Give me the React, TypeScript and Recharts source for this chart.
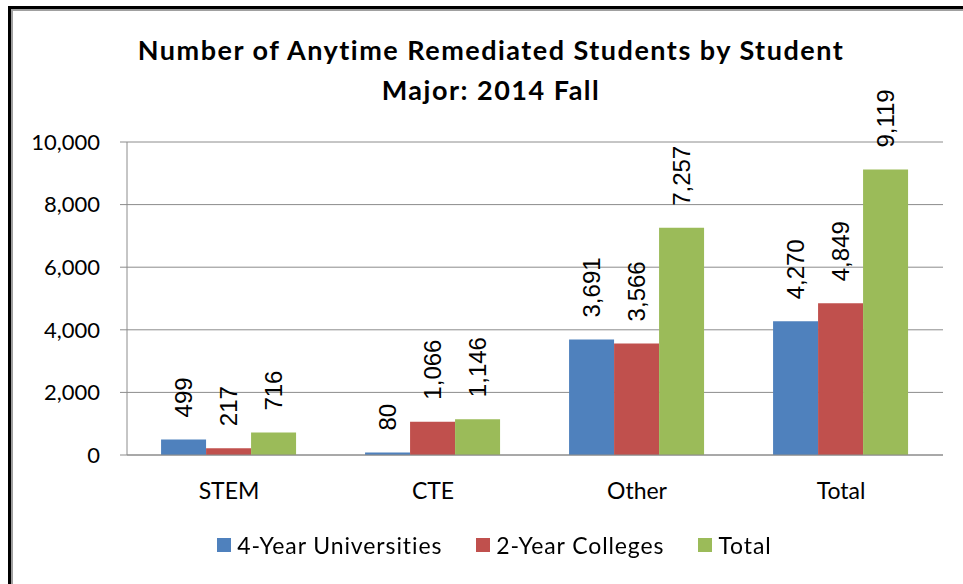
import { Bar, BarChart, CartesianGrid, LabelList, XAxis, YAxis } from 'recharts';

const categories = ['STEM', 'CTE', 'Other', 'Total'];
const universities = [499, 80, 3691, 4270];
const colleges = [217, 1066, 3566, 4849];
const totals = [716, 1146, 7257, 9119];
const yTicks = [0, 2000, 4000, 6000, 8000, 10000];
const edgeTicks = [0, 1, 2, 3, 4];
const seriesKeys = ['universities', 'colleges', 'total'];
const seriesNames = ['4-Year Universities', '2-Year Colleges', 'Total'];
const seriesColors = ['#4F81BD', '#C0504D', '#9BBB59'];

const data = categories.map((name, i) => ({
  name,
  universities: universities[i],
  colleges: colleges[i],
  total: totals[i],
}));

const TICK_FONT = 'Lato, "Open Sans", sans-serif';

function BarValueLabel(props: any) {
  const { x, y, width, value } = props;
  const cx = Number(x) + Number(width) / 2;
  const ly = Number(y) - 22;
  return (
    <text
      x={cx}
      y={ly}
      transform={`rotate(-90 ${cx} ${ly})`}
      textAnchor="start"
      dominantBaseline="central"
      fontSize={24}
      fontFamily='"Liberation Sans", Arial, sans-serif'
      fill="#000"
    >
      {Number(value).toLocaleString('en-US')}
    </text>
  );
}

export default function App() {
  return (
    <div style={{ position: 'fixed', left: 0, top: 0, width: 963, height: 584, background: '#fff' }}>
      {/* frame */}
      <div
        style={{
          position: 'absolute',
          left: 8,
          top: 6,
          width: 960,
          height: 600,
          borderLeft: '3px solid #000',
          borderTop: '3px solid #000',
          boxShadow: 'inset 2px 2px 0 #a0a0a0',
        }}
      />
      <div
        style={{
          position: 'absolute',
          left: 0,
          top: 30,
          width: 982,
          textAlign: 'center',
          fontFamily: TICK_FONT,
          fontWeight: 'bold',
          fontSize: 27,
          letterSpacing: 1.5,
          lineHeight: '40px',
          color: '#000',
        }}
      >
        Number of Anytime Remediated Students by Student
        <br />
        Major: 2014 Fall
      </div>
      <div style={{ position: 'absolute', left: 0, top: 0 }}>
        <BarChart
          width={963}
          height={584}
          data={data}
          margin={{ top: 142, right: 20, left: 0, bottom: 89 }}
          barCategoryGap="16.7%"
          barGap={0}
        >
          <CartesianGrid vertical={false} stroke="#8c8c8c" />
          <XAxis
            xAxisId="edge"
            type="number"
            domain={[0, 4]}
            ticks={edgeTicks}
            height={0}
            axisLine={false}
            tickSize={8}
            tickLine={{ stroke: '#8c8c8c' }}
            tick={() => <g />}
          />
          <XAxis
            xAxisId="cat"
            dataKey="name"
            height={40}
            axisLine={{ stroke: '#8c8c8c' }}
            tickLine={false}
            tickSize={0}
            tickMargin={28}
            tick={{ fill: '#000', fontSize: 23, fontFamily: TICK_FONT }}
          />
          <YAxis
            width={127}
            domain={[0, 10000]}
            ticks={yTicks}
            interval={0}
            axisLine={{ stroke: '#8c8c8c' }}
            tickLine={{ stroke: '#8c8c8c' }}
            tickSize={7}
            tickMargin={20}
            tickFormatter={(v) => Number(v).toLocaleString('en-US')}
            tick={{ fill: '#000', fontSize: 22, fontFamily: TICK_FONT }}
          />
          {seriesKeys.map((key, i) => (
            <Bar
              key={key}
              xAxisId="cat"
              dataKey={key}
              name={seriesNames[i]}
              fill={seriesColors[i]}
              isAnimationActive={false}
            >
              <LabelList dataKey={key} content={BarValueLabel} />
            </Bar>
          ))}
        </BarChart>
      </div>
      {/* legend */}
      <div
        style={{
          position: 'absolute',
          left: 0,
          top: 531,
          width: 989,
          display: 'flex',
          justifyContent: 'center',
          alignItems: 'center',
          fontFamily: TICK_FONT,
          fontSize: 23,
          letterSpacing: 0.9,
          color: '#000',
        }}
      >
        {seriesNames.map((n, i) => (
          <div key={n} style={{ display: 'flex', alignItems: 'center', marginRight: i < 2 ? 34 : 0 }}>
            <span style={{ width: 14, height: 14, background: seriesColors[i], marginRight: 6, display: 'inline-block' }} />
            <span>{n}</span>
          </div>
        ))}
      </div>
    </div>
  );
}
